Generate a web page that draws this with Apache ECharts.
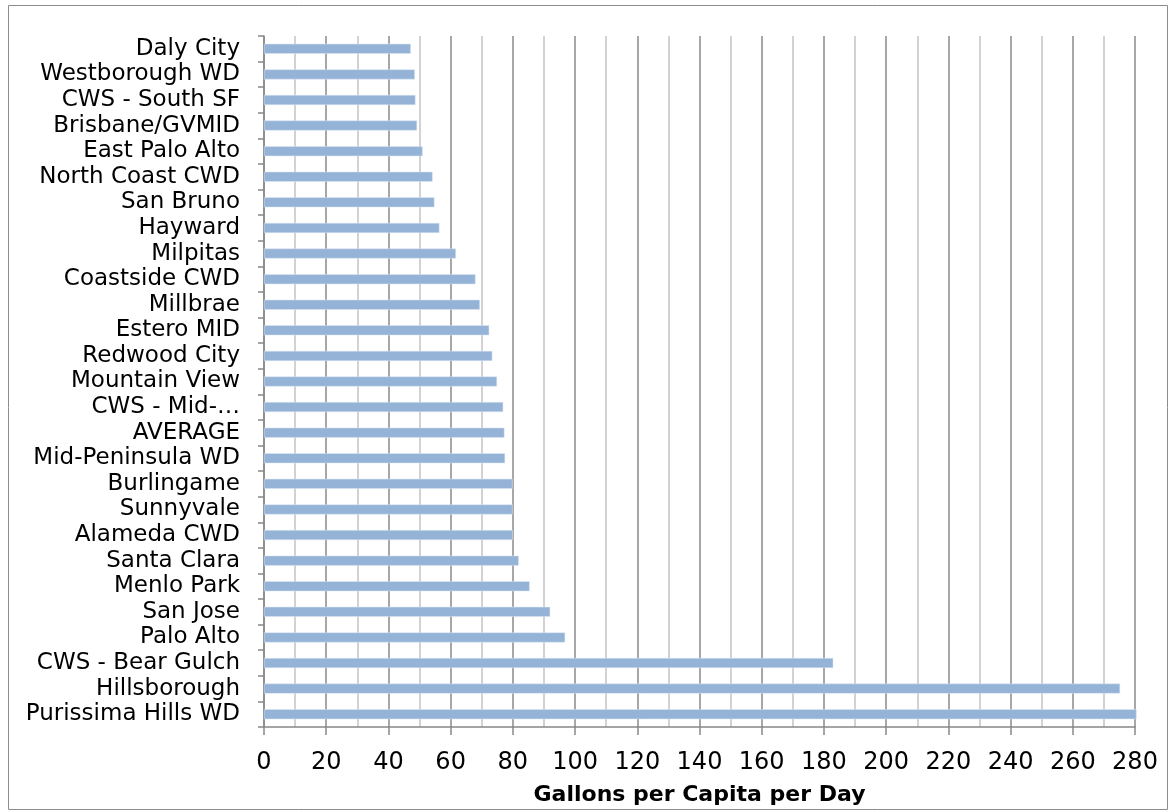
<!DOCTYPE html>
<html><head><meta charset="utf-8">
<script src="https://cdn.jsdelivr.net/npm/echarts@6/dist/echarts.min.js"></script>
<style>html,body{margin:0;padding:0;background:#fff}#c{width:1170px;height:812px}</style>
</head><body><div id="c"></div>
<script>
const categories = ["Daly City","Westborough WD","CWS - South SF","Brisbane/GVMID","East Palo Alto","North Coast CWD","San Bruno","Hayward","Milpitas","Coastside CWD","Millbrae","Estero MID","Redwood City","Mountain View","CWS - Mid-…","AVERAGE","Mid-Peninsula WD","Burlingame","Sunnyvale","Alameda CWD","Santa Clara","Menlo Park","San Jose","Palo Alto","CWS - Bear Gulch","Hillsborough","Purissima Hills WD"];
const values = [47.2,48.5,48.7,49.2,51.0,54.2,54.8,56.4,61.7,68.0,69.4,72.4,73.4,74.9,76.9,77.3,77.5,79.9,79.9,80.0,81.9,85.4,92.0,96.8,183.0,275.2,280.5];
const axisTitle = "Gallons per Capita per Day";
const xMin = 0, xMax = 280, xStep = 20;

const chart = echarts.init(document.getElementById('c'));
const font = '"DejaVu Sans", sans-serif';
chart.setOption({
  animation:false,
  graphic:[{type:'rect',shape:{x:8.5,y:5.5,width:1159,height:804},style:{fill:'none',stroke:'#8c8c8c',lineWidth:1}}],
  grid:{left:264,right:35,top:36,bottom:85},
  xAxis:{type:'value',min:xMin,max:xMax,interval:xStep,
    name:axisTitle,nameLocation:'middle',nameGap:57,
    nameTextStyle:{fontFamily:font,fontWeight:'bold',fontSize:22,color:'#000'},
    axisLine:{show:true,lineStyle:{color:'#888',width:1.5}},
    axisTick:{show:true,length:8,lineStyle:{color:'#888',width:1.5}},
    axisLabel:{fontFamily:font,fontSize:24,color:'#000',margin:24},
    splitLine:{show:true,lineStyle:{color:'#8a8a8a',width:1.5}},
    minorTick:{show:false,splitNumber:2},
    minorSplitLine:{show:true,lineStyle:{color:'#c4c4c4',width:1.5}}
  },
  yAxis:{type:'category',data:categories,inverse:true,boundaryGap:true,
    axisLine:{show:true,lineStyle:{color:'#888',width:1.5}},
    axisTick:{show:true,length:6,alignWithLabel:false,lineStyle:{color:'#888',width:1.5}},
    axisLabel:{fontFamily:font,fontSize:23,color:'#000',margin:24,interval:0,padding:[4,0,0,0]},
    splitLine:{show:false}
  },
  series:[{type:'bar',data:values,barWidth:10,clip:false,
    itemStyle:{color:'#95B3D7',borderColor:'#dce6f2',borderWidth:0.5}}]
});
</script></body></html>
